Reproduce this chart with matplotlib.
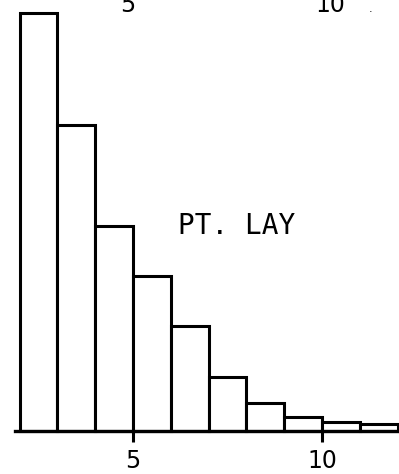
import matplotlib
matplotlib.use("Agg")
import matplotlib.pyplot as plt

# Data (heights in arbitrary units)
bin_left = [2, 3, 4, 5, 6, 7, 8, 9, 10, 11]
heights = [418, 306, 205, 155, 105, 54, 28, 14, 9, 7]
tick_values = [5, 10]
tick_labels = ["5", "10"]
label = "PT. LAY"

W, H = 399, 474
fig = plt.figure(figsize=(W / 100, H / 100), dpi=100)
ax = fig.add_axes([0, 0, 1, 1])

px_per_unit = 37.8
x0_px = 133 - 5 * px_per_unit
ax.set_xlim(-x0_px / px_per_unit, (W - x0_px) / px_per_unit)
ax.set_ylim(-(H - 431), 431)

ax.bar(bin_left, heights, width=1.0, align="edge", color="white",
       edgecolor="black", linewidth=2.2, zorder=2)

for s in ["top", "right", "left"]:
    ax.spines[s].set_visible(False)
ax.spines["bottom"].set_position(("data", 0))
ax.spines["bottom"].set_linewidth(2.4)
ax.spines["bottom"].set_bounds(1.88, ax.get_xlim()[1])
ax.set_yticks([])
ax.set_xticks(tick_values)
ax.set_xticklabels(tick_labels)
ax.tick_params(axis="x", direction="out", length=8, width=2.2, pad=5,
               labelsize=17)
for t in ax.get_xticklabels():
    t.set_fontfamily("DejaVu Sans")

# label in pixel coords (top-left origin) -> display coords
ax.text(237, H - 226, label, transform=None, fontsize=20,
        family="DejaVu Sans Mono", ha="center", va="center")

# truncated labels from panel above
for lx, txt in [(128, "5"), (330, "10")]:
    fig.text(lx / W, 1 - 12 / H, txt, fontsize=17, ha="center", va="baseline",
             family="DejaVu Sans")
fig.text(371 / W, 1 - 12 / H, ".", fontsize=8, ha="center", va="baseline")

fig.savefig("out.png", dpi=100)
